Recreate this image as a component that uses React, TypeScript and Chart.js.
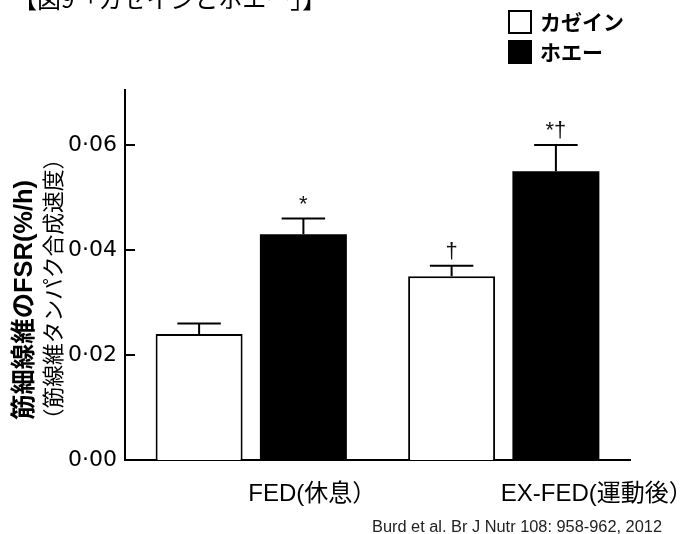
import { useEffect, useRef } from "react";
import { Chart, registerables } from "chart.js";

Chart.register(...registerables);

// Groups on the x axis and the two protein series
const categories = ["FED(休息）", "EX-FED(運動後）"];
const seriesNames = ["カゼイン", "ホエー"];

// Mean FSR (%/h) and standard error per group
const caseinValues = [0.024, 0.035];
const wheyValues = [0.043, 0.055];
const caseinErrors = [0.002, 0.002];
const wheyErrors = [0.003, 0.005];

// Significance marks above each bar
const caseinMarks = ["", "†"];
const wheyMarks = ["*", "*†"];

// Y axis ticks and range
const yTicks = [0, 0.02, 0.04, 0.06];
const yMax = 0.0705;

const figureTitle = "【図9「カゼインとホエー」】";
const yTitleMain = "筋細線維のFSR(%/h)";
const yTitleSub = "（筋線維タンパク合成速度）";
const citation = "Burd et al. Br J Nutr 108: 958-962, 2012";

const JP = '"Noto Sans CJK JP"';
const LATIN = '"Liberation Sans", "Noto Sans CJK JP"';

const formatTick = (v: number) => v.toFixed(2).replace(".", "·");

// Error bars (stem + cap) and significance marks above each bar
const errorBarPlugin = {
  id: "errorBars",
  afterDatasetsDraw(chart: any) {
    const ctx = chart.ctx;
    const yScale = chart.scales.y;
    chart.data.datasets.forEach((ds: any, di: number) => {
      const meta = chart.getDatasetMeta(di);
      meta.data.forEach((bar: any, i: number) => {
        const v = ds.data[i];
        const base = yScale.getPixelForValue(v);
        const top = yScale.getPixelForValue(v + ds.errors[i]);
        const half = bar.width * 0.25;
        ctx.save();
        ctx.strokeStyle = "#000";
        ctx.lineWidth = 2;
        ctx.beginPath();
        ctx.moveTo(bar.x, base);
        ctx.lineTo(bar.x, top);
        ctx.moveTo(bar.x - half, top);
        ctx.lineTo(bar.x + half, top);
        ctx.stroke();
        const mark = ds.marks[i];
        if (mark) {
          ctx.fillStyle = "#111";
          ctx.font = `22px ${LATIN}`;
          ctx.textAlign = "center";
          ctx.textBaseline = "alphabetic";
          ctx.fillText(mark, bar.x, top - 8);
        }
        ctx.restore();
      });
    });
  },
};

// Inward tick marks on the y axis
const innerTicksPlugin = {
  id: "innerTicks",
  afterDraw(chart: any) {
    const ctx = chart.ctx;
    const yScale = chart.scales.y;
    const left = chart.chartArea.left;
    ctx.save();
    ctx.strokeStyle = "#000";
    ctx.lineWidth = 2;
    yScale.ticks.forEach((t: any) => {
      const py = Math.round(yScale.getPixelForValue(t.value));
      ctx.beginPath();
      ctx.moveTo(left, py);
      ctx.lineTo(left + 10, py);
      ctx.stroke();
    });
    ctx.restore();
  },
};

// Stacked legend at the top right
const boxLegendPlugin = {
  id: "boxLegend",
  afterDraw(chart: any) {
    const ctx = chart.ctx;
    ctx.save();
    chart.data.datasets.forEach((ds: any, i: number) => {
      const bx = 508;
      const by = 10 + i * 30;
      const size = 24;
      ctx.fillStyle = ds.backgroundColor;
      ctx.fillRect(bx, by, size, size);
      ctx.strokeStyle = "#000";
      ctx.lineWidth = 2;
      ctx.strokeRect(bx + 1, by + 1, size - 2, size - 2);
      ctx.fillStyle = "#000";
      ctx.font = `bold 21px ${JP}`;
      ctx.textAlign = "left";
      ctx.textBaseline = "middle";
      ctx.fillText(ds.label, 540, by + size / 2);
    });
    ctx.restore();
  },
};

// Draws a rotated line of text sized so it spans the given length
function drawVertical(ctx: any, text: string, cx: number, cy: number, length: number, weight: string, family: string) {
  ctx.save();
  ctx.font = `${weight} 20px ${family}`;
  const w = ctx.measureText(text).width;
  const size = (20 * length) / w;
  ctx.font = `${weight} ${size}px ${family}`;
  ctx.translate(cx, cy);
  ctx.rotate(-Math.PI / 2);
  ctx.textAlign = "center";
  ctx.textBaseline = "middle";
  ctx.fillText(text, 0, 0);
  ctx.restore();
}

// Figure heading, two-line y title and source note
const textPlugin = {
  id: "figureText",
  afterDraw(chart: any) {
    const ctx = chart.ctx;
    ctx.save();
    ctx.fillStyle = "#000";

    ctx.font = `24px ${JP}`;
    ctx.textAlign = "left";
    ctx.textBaseline = "alphabetic";
    ctx.fillText(figureTitle, 13, 8);

    drawVertical(ctx, yTitleMain, 25, 300, 240, "bold", LATIN);
    drawVertical(ctx, yTitleSub, 53, 289, 283, "normal", JP);

    ctx.font = `16px ${LATIN}`;
    ctx.fillStyle = "#222";
    const w = ctx.measureText(citation).width;
    ctx.save();
    ctx.translate(372, 532);
    ctx.scale(290 / w, 1);
    ctx.textAlign = "left";
    ctx.textBaseline = "alphabetic";
    ctx.fillText(citation, 0, 0);
    ctx.restore();

    ctx.restore();
  },
};

export default function App() {
  const canvasRef = useRef<HTMLCanvasElement | null>(null);

  useEffect(() => {
    if (!canvasRef.current) return;
    const chart = new Chart(canvasRef.current, {
      type: "bar",
      data: {
        labels: categories,
        datasets: [
          {
            label: seriesNames[0],
            data: caseinValues,
            errors: caseinErrors,
            marks: caseinMarks,
            backgroundColor: "#ffffff",
            borderColor: "#000000",
            borderWidth: 2,
            categoryPercentage: 0.826,
            barPercentage: 0.834,
          } as any,
          {
            label: seriesNames[1],
            data: wheyValues,
            errors: wheyErrors,
            marks: wheyMarks,
            backgroundColor: "#000000",
            borderWidth: 0,
            categoryPercentage: 0.826,
            barPercentage: 0.834,
          } as any,
        ],
      },
      options: {
        animation: false,
        responsive: true,
        maintainAspectRatio: false,
        events: [],
        layout: { padding: { top: 90, right: 69, left: 0, bottom: 0 } },
        plugins: {
          legend: { display: false },
          tooltip: { enabled: false },
        },
        scales: {
          x: {
            z: 1,
            grid: { display: false, drawTicks: false },
            border: { display: true, color: "#000", width: 2 },
            ticks: {
              align: "start",
              labelOffset: -3,
              color: "#000",
              padding: 20,
              font: { size: 24, family: LATIN },
              maxRotation: 0,
            },
            afterFit(scale: any) {
              scale.height = 74;
              scale.paddingLeft = 0;
              scale.paddingRight = 0;
            },
          },
          y: {
            z: 1,
            min: 0,
            max: yMax,
            grid: { display: false, drawTicks: false },
            border: { display: true, color: "#000", width: 2 },
            ticks: {
              color: "#000",
              padding: 8,
              font: { size: 22, family: '"DejaVu Sans"' },
              callback: (v: any) => formatTick(Number(v)),
            },
            afterBuildTicks(scale: any) {
              scale.ticks = yTicks.map((v) => ({ value: v }));
            },
            afterFit(scale: any) {
              scale.width = 125;
              scale.paddingTop = 0;
              scale.paddingBottom = 0;
            },
          },
        },
      } as any,
      plugins: [errorBarPlugin, innerTicksPlugin, boxLegendPlugin, textPlugin],
    });
    return () => chart.destroy();
  }, []);

  return (
    <div style={{ position: "fixed", left: 0, top: 0, width: 699, height: 534, background: "#fff" }}>
      <canvas ref={canvasRef} />
    </div>
  );
}
